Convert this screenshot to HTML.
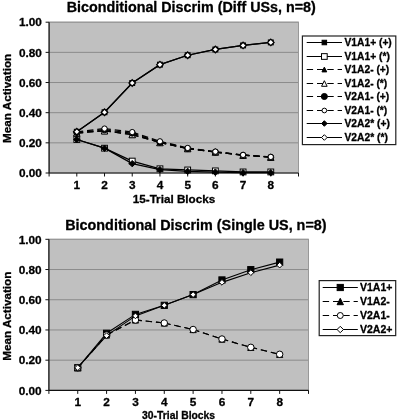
<!DOCTYPE html>
<html><head><meta charset="utf-8"><title>Biconditional Discrim</title>
<style>
html,body{margin:0;padding:0;background:#fff;}
body{width:397px;height:420px;overflow:hidden;font-family:"Liberation Sans",sans-serif;}
svg{display:block;filter:grayscale(1) blur(0.35px);}
</style></head><body>
<svg width="397" height="420" viewBox="0 0 397 420" font-family="'Liberation Sans', sans-serif" fill="#000">
<style>text{stroke:#000;stroke-width:0.3px;stroke-linejoin:round}</style>
<rect width="397" height="420" fill="#fff"/>
<rect x="49.1" y="22.2" width="249.4" height="150.8" fill="#c0c0c0"/>
<line x1="49.1" x2="298.5" y1="142.84" y2="142.84" stroke="#858585" stroke-width="0.9"/>
<line x1="49.1" x2="298.5" y1="112.68" y2="112.68" stroke="#858585" stroke-width="0.9"/>
<line x1="49.1" x2="298.5" y1="82.52" y2="82.52" stroke="#858585" stroke-width="0.9"/>
<line x1="49.1" x2="298.5" y1="52.36" y2="52.36" stroke="#858585" stroke-width="0.9"/>
<line x1="49.1" x2="298.5" y1="22.20" y2="22.20" stroke="#858585" stroke-width="0.9"/>
<rect x="49.1" y="22.2" width="249.4" height="150.8" fill="none" stroke="#989898" stroke-width="1"/>
<line x1="49.1" x2="49.1" y1="22.2" y2="173.0" stroke="#111" stroke-width="1.2"/>
<line x1="49.1" x2="298.5" y1="173.0" y2="173.0" stroke="#111" stroke-width="1.2"/>
<line x1="45.6" x2="49.1" y1="173.00" y2="173.00" stroke="#111" stroke-width="1"/>
<text x="41.9" y="177.25" text-anchor="end" font-size="11.8" font-weight="bold">0.00</text>
<line x1="45.6" x2="49.1" y1="142.84" y2="142.84" stroke="#111" stroke-width="1"/>
<text x="41.9" y="147.09" text-anchor="end" font-size="11.8" font-weight="bold">0.20</text>
<line x1="45.6" x2="49.1" y1="112.68" y2="112.68" stroke="#111" stroke-width="1"/>
<text x="41.9" y="116.93" text-anchor="end" font-size="11.8" font-weight="bold">0.40</text>
<line x1="45.6" x2="49.1" y1="82.52" y2="82.52" stroke="#111" stroke-width="1"/>
<text x="41.9" y="86.77" text-anchor="end" font-size="11.8" font-weight="bold">0.60</text>
<line x1="45.6" x2="49.1" y1="52.36" y2="52.36" stroke="#111" stroke-width="1"/>
<text x="41.9" y="56.61" text-anchor="end" font-size="11.8" font-weight="bold">0.80</text>
<line x1="45.6" x2="49.1" y1="22.20" y2="22.20" stroke="#111" stroke-width="1"/>
<text x="41.9" y="26.45" text-anchor="end" font-size="11.8" font-weight="bold">1.00</text>
<line x1="49.10" x2="49.10" y1="173.0" y2="176.5" stroke="#111" stroke-width="1"/>
<line x1="76.81" x2="76.81" y1="173.0" y2="176.5" stroke="#111" stroke-width="1"/>
<text x="76.81" y="189.0" text-anchor="middle" font-size="11.8" font-weight="bold">1</text>
<line x1="104.52" x2="104.52" y1="173.0" y2="176.5" stroke="#111" stroke-width="1"/>
<text x="104.52" y="189.0" text-anchor="middle" font-size="11.8" font-weight="bold">2</text>
<line x1="132.23" x2="132.23" y1="173.0" y2="176.5" stroke="#111" stroke-width="1"/>
<text x="132.23" y="189.0" text-anchor="middle" font-size="11.8" font-weight="bold">3</text>
<line x1="159.94" x2="159.94" y1="173.0" y2="176.5" stroke="#111" stroke-width="1"/>
<text x="159.94" y="189.0" text-anchor="middle" font-size="11.8" font-weight="bold">4</text>
<line x1="187.66" x2="187.66" y1="173.0" y2="176.5" stroke="#111" stroke-width="1"/>
<text x="187.66" y="189.0" text-anchor="middle" font-size="11.8" font-weight="bold">5</text>
<line x1="215.37" x2="215.37" y1="173.0" y2="176.5" stroke="#111" stroke-width="1"/>
<text x="215.37" y="189.0" text-anchor="middle" font-size="11.8" font-weight="bold">6</text>
<line x1="243.08" x2="243.08" y1="173.0" y2="176.5" stroke="#111" stroke-width="1"/>
<text x="243.08" y="189.0" text-anchor="middle" font-size="11.8" font-weight="bold">7</text>
<line x1="270.79" x2="270.79" y1="173.0" y2="176.5" stroke="#111" stroke-width="1"/>
<text x="270.79" y="189.0" text-anchor="middle" font-size="11.8" font-weight="bold">8</text>
<line x1="298.50" x2="298.50" y1="173.0" y2="176.5" stroke="#111" stroke-width="1"/>
<polyline points="76.81,131.76 104.52,112.27 132.23,83.02 159.94,64.65 187.66,55.23 215.37,49.49 243.08,45.42 270.79,42.41" fill="none" stroke="#000" stroke-width="1.25"/>
<rect x="74.36" y="129.31" width="4.90" height="4.90" fill="#000" stroke="#000" stroke-width="1"/>
<rect x="102.07" y="109.82" width="4.90" height="4.90" fill="#000" stroke="#000" stroke-width="1"/>
<rect x="129.78" y="80.57" width="4.90" height="4.90" fill="#000" stroke="#000" stroke-width="1"/>
<rect x="157.49" y="62.20" width="4.90" height="4.90" fill="#000" stroke="#000" stroke-width="1"/>
<rect x="185.21" y="52.78" width="4.90" height="4.90" fill="#000" stroke="#000" stroke-width="1"/>
<rect x="212.92" y="47.04" width="4.90" height="4.90" fill="#000" stroke="#000" stroke-width="1"/>
<rect x="240.63" y="42.97" width="4.90" height="4.90" fill="#000" stroke="#000" stroke-width="1"/>
<rect x="268.34" y="39.96" width="4.90" height="4.90" fill="#000" stroke="#000" stroke-width="1"/>
<polyline points="76.81,139.52 104.52,148.19 132.23,161.09 159.94,168.78 187.66,169.98 215.37,170.89 243.08,171.94 270.79,171.94" fill="none" stroke="#000" stroke-width="1.25"/>
<rect x="73.91" y="136.62" width="5.80" height="5.80" fill="#fff" stroke="#000" stroke-width="1"/>
<rect x="101.62" y="145.29" width="5.80" height="5.80" fill="#fff" stroke="#000" stroke-width="1"/>
<rect x="129.33" y="158.19" width="5.80" height="5.80" fill="#fff" stroke="#000" stroke-width="1"/>
<rect x="157.04" y="165.88" width="5.80" height="5.80" fill="#fff" stroke="#000" stroke-width="1"/>
<rect x="184.76" y="167.08" width="5.80" height="5.80" fill="#fff" stroke="#000" stroke-width="1"/>
<rect x="212.47" y="167.99" width="5.80" height="5.80" fill="#fff" stroke="#000" stroke-width="1"/>
<rect x="240.18" y="169.04" width="5.80" height="5.80" fill="#fff" stroke="#000" stroke-width="1"/>
<rect x="267.89" y="169.04" width="5.80" height="5.80" fill="#fff" stroke="#000" stroke-width="1"/>
<path d="M76.81 133.04L104.52 130.78M104.52 130.78L132.23 134.55M132.23 134.55L159.94 142.54M159.94 142.54L187.66 148.57M187.66 148.57L215.37 152.04M215.37 152.04L243.08 155.21M243.08 155.21L270.79 157.17" fill="none" stroke="#000" stroke-width="1.25" stroke-dasharray="6.4 3.9"/>
<path d="M76.81 130.04L79.81 136.04L73.81 136.04Z" fill="#000" stroke="#000" stroke-width="1"/>
<path d="M104.52 127.78L107.52 133.78L101.52 133.78Z" fill="#000" stroke="#000" stroke-width="1"/>
<path d="M132.23 131.55L135.23 137.55L129.23 137.55Z" fill="#000" stroke="#000" stroke-width="1"/>
<path d="M159.94 139.54L162.94 145.54L156.94 145.54Z" fill="#000" stroke="#000" stroke-width="1"/>
<path d="M187.66 145.57L190.66 151.57L184.66 151.57Z" fill="#000" stroke="#000" stroke-width="1"/>
<path d="M215.37 149.04L218.37 155.04L212.37 155.04Z" fill="#000" stroke="#000" stroke-width="1"/>
<path d="M243.08 152.21L246.08 158.21L240.08 158.21Z" fill="#000" stroke="#000" stroke-width="1"/>
<path d="M270.79 154.17L273.79 160.17L267.79 160.17Z" fill="#000" stroke="#000" stroke-width="1"/>
<path d="M76.81 133.04L104.52 130.78M104.52 130.78L132.23 134.55M132.23 134.55L159.94 142.54M159.94 142.54L187.66 148.57M187.66 148.57L215.37 152.04M215.37 152.04L243.08 155.21M243.08 155.21L270.79 157.17" fill="none" stroke="#000" stroke-width="1.25" stroke-dasharray="6.4 3.9"/>
<path d="M76.81 129.84L80.01 136.24L73.61 136.24Z" fill="#fff" stroke="#000" stroke-width="1"/>
<path d="M104.52 127.58L107.72 133.98L101.32 133.98Z" fill="#fff" stroke="#000" stroke-width="1"/>
<path d="M132.23 131.35L135.43 137.75L129.03 137.75Z" fill="#fff" stroke="#000" stroke-width="1"/>
<path d="M159.94 139.34L163.14 145.74L156.74 145.74Z" fill="#fff" stroke="#000" stroke-width="1"/>
<path d="M187.66 145.37L190.86 151.77L184.46 151.77Z" fill="#fff" stroke="#000" stroke-width="1"/>
<path d="M215.37 148.84L218.57 155.24L212.17 155.24Z" fill="#fff" stroke="#000" stroke-width="1"/>
<path d="M243.08 152.01L246.28 158.41L239.88 158.41Z" fill="#fff" stroke="#000" stroke-width="1"/>
<path d="M270.79 153.97L273.99 160.37L267.59 160.37Z" fill="#fff" stroke="#000" stroke-width="1"/>
<path d="M76.81 132.59L104.52 129.72M104.52 129.72L132.23 133.19M132.23 133.19L159.94 142.24M159.94 142.24L187.66 148.57M187.66 148.57L215.37 152.04M215.37 152.04L243.08 155.21M243.08 155.21L270.79 157.17" fill="none" stroke="#000" stroke-width="1.25" stroke-dasharray="6.4 3.9"/>
<circle cx="76.81" cy="132.59" r="3.00" fill="#000" stroke="#000" stroke-width="1"/>
<circle cx="104.52" cy="129.72" r="3.00" fill="#000" stroke="#000" stroke-width="1"/>
<circle cx="132.23" cy="133.19" r="3.00" fill="#000" stroke="#000" stroke-width="1"/>
<circle cx="159.94" cy="142.24" r="3.00" fill="#000" stroke="#000" stroke-width="1"/>
<circle cx="187.66" cy="148.57" r="3.00" fill="#000" stroke="#000" stroke-width="1"/>
<circle cx="215.37" cy="152.04" r="3.00" fill="#000" stroke="#000" stroke-width="1"/>
<circle cx="243.08" cy="155.21" r="3.00" fill="#000" stroke="#000" stroke-width="1"/>
<circle cx="270.79" cy="157.17" r="3.00" fill="#000" stroke="#000" stroke-width="1"/>
<path d="M76.81 131.91L104.52 128.56M104.52 128.56L132.23 132.06M132.23 132.06L159.94 141.33M159.94 141.33L187.66 147.97M187.66 147.97L215.37 151.63M215.37 151.63L243.08 154.90M243.08 154.90L270.79 156.92" fill="none" stroke="#000" stroke-width="1.25" stroke-dasharray="6.4 3.9"/>
<circle cx="76.81" cy="131.91" r="2.65" fill="#fff" stroke="#000" stroke-width="1"/>
<circle cx="104.52" cy="128.56" r="2.65" fill="#fff" stroke="#000" stroke-width="1"/>
<circle cx="132.23" cy="132.06" r="2.65" fill="#fff" stroke="#000" stroke-width="1"/>
<circle cx="159.94" cy="141.33" r="2.65" fill="#fff" stroke="#000" stroke-width="1"/>
<circle cx="187.66" cy="147.97" r="2.65" fill="#fff" stroke="#000" stroke-width="1"/>
<circle cx="215.37" cy="151.63" r="2.65" fill="#fff" stroke="#000" stroke-width="1"/>
<circle cx="243.08" cy="154.90" r="2.65" fill="#fff" stroke="#000" stroke-width="1"/>
<circle cx="270.79" cy="156.92" r="2.65" fill="#fff" stroke="#000" stroke-width="1"/>
<polyline points="76.81,139.52 104.52,148.19 132.23,163.65 159.94,169.61 187.66,171.34 215.37,172.10 243.08,172.70 270.79,172.70" fill="none" stroke="#000" stroke-width="1.25"/>
<path d="M76.81 136.32L80.01 139.52L76.81 142.72L73.61 139.52Z" fill="#000" stroke="#000" stroke-width="1"/>
<path d="M104.52 144.99L107.72 148.19L104.52 151.39L101.32 148.19Z" fill="#000" stroke="#000" stroke-width="1"/>
<path d="M132.23 160.45L135.43 163.65L132.23 166.85L129.03 163.65Z" fill="#000" stroke="#000" stroke-width="1"/>
<path d="M159.94 166.41L163.14 169.61L159.94 172.81L156.74 169.61Z" fill="#000" stroke="#000" stroke-width="1"/>
<path d="M187.66 168.14L190.86 171.34L187.66 174.54L184.46 171.34Z" fill="#000" stroke="#000" stroke-width="1"/>
<path d="M215.37 168.90L218.57 172.10L215.37 175.30L212.17 172.10Z" fill="#000" stroke="#000" stroke-width="1"/>
<path d="M243.08 169.50L246.28 172.70L243.08 175.90L239.88 172.70Z" fill="#000" stroke="#000" stroke-width="1"/>
<path d="M270.79 169.50L273.99 172.70L270.79 175.90L267.59 172.70Z" fill="#000" stroke="#000" stroke-width="1"/>
<polyline points="76.81,131.76 104.52,112.27 132.23,83.02 159.94,64.65 187.66,55.23 215.37,49.49 243.08,45.42 270.79,42.41" fill="none" stroke="#000" stroke-width="1.25"/>
<path d="M76.81 128.51L80.06 131.76L76.81 135.01L73.56 131.76Z" fill="#fff" stroke="#000" stroke-width="1.3"/>
<path d="M104.52 109.02L107.77 112.27L104.52 115.52L101.27 112.27Z" fill="#fff" stroke="#000" stroke-width="1.3"/>
<path d="M132.23 79.77L135.48 83.02L132.23 86.27L128.98 83.02Z" fill="#fff" stroke="#000" stroke-width="1.3"/>
<path d="M159.94 61.40L163.19 64.65L159.94 67.90L156.69 64.65Z" fill="#fff" stroke="#000" stroke-width="1.3"/>
<path d="M187.66 51.98L190.91 55.23L187.66 58.48L184.41 55.23Z" fill="#fff" stroke="#000" stroke-width="1.3"/>
<path d="M215.37 46.24L218.62 49.49L215.37 52.74L212.12 49.49Z" fill="#fff" stroke="#000" stroke-width="1.3"/>
<path d="M243.08 42.17L246.33 45.42L243.08 48.67L239.83 45.42Z" fill="#fff" stroke="#000" stroke-width="1.3"/>
<path d="M270.79 39.16L274.04 42.41L270.79 45.66L267.54 42.41Z" fill="#fff" stroke="#000" stroke-width="1.3"/>
<text x="191.3" y="11.7" text-anchor="middle" font-size="14.3" font-weight="bold">Biconditional Discrim (Diff USs, n=8)</text>
<text x="174" y="203.3" text-anchor="middle" font-size="11.7" font-weight="bold">15-Trial Blocks</text>
<text transform="translate(11.3,98.4) rotate(-90)" text-anchor="middle" font-size="11.7" font-weight="bold">Mean Activation</text>
<rect x="302.4" y="36" width="93.40000000000003" height="108.6" fill="#fff" stroke="#222" stroke-width="1.2"/>
<line x1="306.7" x2="342" y1="42.5" y2="42.5" stroke="#000" stroke-width="1.1"/>
<rect x="322.10" y="40.25" width="4.50" height="4.50" fill="#000" stroke="#000" stroke-width="1"/>
<text x="344.5" y="46.15" font-size="10.25" font-weight="bold">V1A1+ (+)</text>
<line x1="306.7" x2="342" y1="56.5" y2="56.5" stroke="#000" stroke-width="1.1"/>
<rect x="321.50" y="53.65" width="5.70" height="5.70" fill="#fff" stroke="#000" stroke-width="1"/>
<text x="344.5" y="60.15" font-size="10.25" font-weight="bold">V1A1+ (*)</text>
<path d="M306.7 69.5L342 69.5" fill="none" stroke="#000" stroke-width="1.1" stroke-dasharray="6.4 3.9"/>
<path d="M324.35 67.10L326.75 71.90L321.95 71.90Z" fill="#000" stroke="#000" stroke-width="1"/>
<text x="344.5" y="73.15" font-size="10.25" font-weight="bold">V1A2- (+)</text>
<path d="M306.7 83.5L342 83.5" fill="none" stroke="#000" stroke-width="1.1" stroke-dasharray="6.4 3.9"/>
<path d="M324.35 80.70L327.15 86.30L321.55 86.30Z" fill="#fff" stroke="#000" stroke-width="1"/>
<text x="344.5" y="87.15" font-size="10.25" font-weight="bold">V1A2- (*)</text>
<path d="M306.7 96.5L342 96.5" fill="none" stroke="#000" stroke-width="1.1" stroke-dasharray="6.4 3.9"/>
<circle cx="324.35" cy="96.50" r="3.05" fill="#000" stroke="#000" stroke-width="1"/>
<text x="344.5" y="100.15" font-size="10.25" font-weight="bold">V2A1- (+)</text>
<path d="M306.7 110.5L342 110.5" fill="none" stroke="#000" stroke-width="1.1" stroke-dasharray="6.4 3.9"/>
<circle cx="324.35" cy="110.50" r="2.35" fill="#fff" stroke="#000" stroke-width="1"/>
<text x="344.5" y="114.15" font-size="10.25" font-weight="bold">V2A1- (*)</text>
<line x1="306.7" x2="342" y1="123.5" y2="123.5" stroke="#000" stroke-width="1.1"/>
<path d="M324.35 120.70L327.15 123.50L324.35 126.30L321.55 123.50Z" fill="#000" stroke="#000" stroke-width="1"/>
<text x="344.5" y="127.15" font-size="10.25" font-weight="bold">V2A2* (+)</text>
<line x1="306.7" x2="342" y1="137.5" y2="137.5" stroke="#000" stroke-width="1.1"/>
<path d="M324.35 134.70L327.15 137.50L324.35 140.30L321.55 137.50Z" fill="#fff" stroke="#000" stroke-width="1"/>
<text x="344.5" y="141.15" font-size="10.25" font-weight="bold">V2A2* (*)</text>
<rect x="48.9" y="239.3" width="259.6" height="151.09999999999997" fill="#c0c0c0"/>
<line x1="48.9" x2="308.5" y1="360.18" y2="360.18" stroke="#858585" stroke-width="0.9"/>
<line x1="48.9" x2="308.5" y1="329.96" y2="329.96" stroke="#858585" stroke-width="0.9"/>
<line x1="48.9" x2="308.5" y1="299.74" y2="299.74" stroke="#858585" stroke-width="0.9"/>
<line x1="48.9" x2="308.5" y1="269.52" y2="269.52" stroke="#858585" stroke-width="0.9"/>
<line x1="48.9" x2="308.5" y1="239.30" y2="239.30" stroke="#858585" stroke-width="0.9"/>
<rect x="48.9" y="239.3" width="259.6" height="151.09999999999997" fill="none" stroke="#989898" stroke-width="1"/>
<line x1="48.9" x2="48.9" y1="239.3" y2="390.4" stroke="#111" stroke-width="1.2"/>
<line x1="48.9" x2="308.5" y1="390.4" y2="390.4" stroke="#111" stroke-width="1.2"/>
<line x1="45.4" x2="48.9" y1="390.40" y2="390.40" stroke="#111" stroke-width="1"/>
<text x="41.699999999999996" y="394.65" text-anchor="end" font-size="11.8" font-weight="bold">0.00</text>
<line x1="45.4" x2="48.9" y1="360.18" y2="360.18" stroke="#111" stroke-width="1"/>
<text x="41.699999999999996" y="364.43" text-anchor="end" font-size="11.8" font-weight="bold">0.20</text>
<line x1="45.4" x2="48.9" y1="329.96" y2="329.96" stroke="#111" stroke-width="1"/>
<text x="41.699999999999996" y="334.21" text-anchor="end" font-size="11.8" font-weight="bold">0.40</text>
<line x1="45.4" x2="48.9" y1="299.74" y2="299.74" stroke="#111" stroke-width="1"/>
<text x="41.699999999999996" y="303.99" text-anchor="end" font-size="11.8" font-weight="bold">0.60</text>
<line x1="45.4" x2="48.9" y1="269.52" y2="269.52" stroke="#111" stroke-width="1"/>
<text x="41.699999999999996" y="273.77" text-anchor="end" font-size="11.8" font-weight="bold">0.80</text>
<line x1="45.4" x2="48.9" y1="239.30" y2="239.30" stroke="#111" stroke-width="1"/>
<text x="41.699999999999996" y="243.55" text-anchor="end" font-size="11.8" font-weight="bold">1.00</text>
<line x1="48.90" x2="48.90" y1="390.4" y2="393.9" stroke="#111" stroke-width="1"/>
<line x1="77.74" x2="77.74" y1="390.4" y2="393.9" stroke="#111" stroke-width="1"/>
<text x="77.74" y="406.2" text-anchor="middle" font-size="11.8" font-weight="bold">1</text>
<line x1="106.59" x2="106.59" y1="390.4" y2="393.9" stroke="#111" stroke-width="1"/>
<text x="106.59" y="406.2" text-anchor="middle" font-size="11.8" font-weight="bold">2</text>
<line x1="135.43" x2="135.43" y1="390.4" y2="393.9" stroke="#111" stroke-width="1"/>
<text x="135.43" y="406.2" text-anchor="middle" font-size="11.8" font-weight="bold">3</text>
<line x1="164.28" x2="164.28" y1="390.4" y2="393.9" stroke="#111" stroke-width="1"/>
<text x="164.28" y="406.2" text-anchor="middle" font-size="11.8" font-weight="bold">4</text>
<line x1="193.12" x2="193.12" y1="390.4" y2="393.9" stroke="#111" stroke-width="1"/>
<text x="193.12" y="406.2" text-anchor="middle" font-size="11.8" font-weight="bold">5</text>
<line x1="221.97" x2="221.97" y1="390.4" y2="393.9" stroke="#111" stroke-width="1"/>
<text x="221.97" y="406.2" text-anchor="middle" font-size="11.8" font-weight="bold">6</text>
<line x1="250.81" x2="250.81" y1="390.4" y2="393.9" stroke="#111" stroke-width="1"/>
<text x="250.81" y="406.2" text-anchor="middle" font-size="11.8" font-weight="bold">7</text>
<line x1="279.66" x2="279.66" y1="390.4" y2="393.9" stroke="#111" stroke-width="1"/>
<text x="279.66" y="406.2" text-anchor="middle" font-size="11.8" font-weight="bold">8</text>
<line x1="308.50" x2="308.50" y1="390.4" y2="393.9" stroke="#111" stroke-width="1"/>
<polyline points="77.74,367.73 106.59,333.28 135.43,314.40 164.28,305.33 193.12,294.60 221.97,279.95 250.81,269.67 279.66,262.12" fill="none" stroke="#000" stroke-width="1.1"/>
<rect x="74.64" y="364.63" width="6.20" height="6.20" fill="#000" stroke="#000" stroke-width="1"/>
<rect x="103.49" y="330.18" width="6.20" height="6.20" fill="#000" stroke="#000" stroke-width="1"/>
<rect x="132.33" y="311.30" width="6.20" height="6.20" fill="#000" stroke="#000" stroke-width="1"/>
<rect x="161.18" y="302.23" width="6.20" height="6.20" fill="#000" stroke="#000" stroke-width="1"/>
<rect x="190.02" y="291.50" width="6.20" height="6.20" fill="#000" stroke="#000" stroke-width="1"/>
<rect x="218.87" y="276.85" width="6.20" height="6.20" fill="#000" stroke="#000" stroke-width="1"/>
<rect x="247.71" y="266.57" width="6.20" height="6.20" fill="#000" stroke="#000" stroke-width="1"/>
<rect x="276.56" y="259.02" width="6.20" height="6.20" fill="#000" stroke="#000" stroke-width="1"/>
<path d="M77.74 367.73L106.59 334.99M106.59 334.99L135.43 319.99M135.43 319.99L164.28 323.01M164.28 323.01L193.12 329.51M193.12 329.51L221.97 339.03M221.97 339.03L250.81 347.34M250.81 347.34L279.66 354.29" fill="none" stroke="#000" stroke-width="1.1" stroke-dasharray="6.4 3.9"/>
<path d="M77.74 364.63L80.84 370.83L74.64 370.83Z" fill="#000" stroke="#000" stroke-width="1"/>
<path d="M106.59 331.89L109.69 338.09L103.49 338.09Z" fill="#000" stroke="#000" stroke-width="1"/>
<path d="M135.43 316.89L138.53 323.09L132.33 323.09Z" fill="#000" stroke="#000" stroke-width="1"/>
<path d="M164.28 319.91L167.38 326.11L161.18 326.11Z" fill="#000" stroke="#000" stroke-width="1"/>
<path d="M193.12 326.41L196.22 332.61L190.02 332.61Z" fill="#000" stroke="#000" stroke-width="1"/>
<path d="M221.97 335.93L225.07 342.13L218.87 342.13Z" fill="#000" stroke="#000" stroke-width="1"/>
<path d="M250.81 344.24L253.91 350.44L247.71 350.44Z" fill="#000" stroke="#000" stroke-width="1"/>
<path d="M279.66 351.19L282.76 357.39L276.56 357.39Z" fill="#000" stroke="#000" stroke-width="1"/>
<path d="M77.74 367.73L106.59 334.99M106.59 334.99L135.43 319.99M135.43 319.99L164.28 323.01M164.28 323.01L193.12 329.51M193.12 329.51L221.97 339.03M221.97 339.03L250.81 347.34M250.81 347.34L279.66 354.29" fill="none" stroke="#000" stroke-width="1.1" stroke-dasharray="6.4 3.9"/>
<circle cx="77.74" cy="367.73" r="3.25" fill="#fff" stroke="#000" stroke-width="1"/>
<circle cx="106.59" cy="334.99" r="3.25" fill="#fff" stroke="#000" stroke-width="1"/>
<circle cx="135.43" cy="319.99" r="3.25" fill="#fff" stroke="#000" stroke-width="1"/>
<circle cx="164.28" cy="323.01" r="3.25" fill="#fff" stroke="#000" stroke-width="1"/>
<circle cx="193.12" cy="329.51" r="3.25" fill="#fff" stroke="#000" stroke-width="1"/>
<circle cx="221.97" cy="339.03" r="3.25" fill="#fff" stroke="#000" stroke-width="1"/>
<circle cx="250.81" cy="347.34" r="3.25" fill="#fff" stroke="#000" stroke-width="1"/>
<circle cx="279.66" cy="354.29" r="3.25" fill="#fff" stroke="#000" stroke-width="1"/>
<polyline points="77.74,367.73 106.59,335.63 135.43,315.91 164.28,305.33 193.12,294.60 221.97,282.36 250.81,272.69 279.66,265.14" fill="none" stroke="#000" stroke-width="1.1"/>
<path d="M77.74 364.88L80.59 367.73L77.74 370.58L74.89 367.73Z" fill="#fff" stroke="#000" stroke-width="1"/>
<path d="M106.59 332.78L109.44 335.63L106.59 338.48L103.74 335.63Z" fill="#fff" stroke="#000" stroke-width="1"/>
<path d="M135.43 313.06L138.28 315.91L135.43 318.76L132.58 315.91Z" fill="#fff" stroke="#000" stroke-width="1"/>
<path d="M164.28 302.48L167.13 305.33L164.28 308.18L161.43 305.33Z" fill="#fff" stroke="#000" stroke-width="1"/>
<path d="M193.12 291.75L195.97 294.60L193.12 297.45L190.27 294.60Z" fill="#fff" stroke="#000" stroke-width="1"/>
<path d="M221.97 279.51L224.82 282.36L221.97 285.21L219.12 282.36Z" fill="#fff" stroke="#000" stroke-width="1"/>
<path d="M250.81 269.84L253.66 272.69L250.81 275.54L247.96 272.69Z" fill="#fff" stroke="#000" stroke-width="1"/>
<path d="M279.66 262.29L282.51 265.14L279.66 267.99L276.81 265.14Z" fill="#fff" stroke="#000" stroke-width="1"/>
<text x="195.9" y="230.1" text-anchor="middle" font-size="14.37" font-weight="bold">Biconditional Discrim (Single US, n=8)</text>
<text x="178.6" y="418.8" text-anchor="middle" font-size="10.35" font-weight="bold">30-Trial Blocks</text>
<text transform="translate(11.3,316.2) rotate(-90)" text-anchor="middle" font-size="11.7" font-weight="bold">Mean Activation</text>
<rect x="319.2" y="280.6" width="76.5" height="55.0" fill="#fff" stroke="#222" stroke-width="1.2"/>
<line x1="322.7" x2="357.8" y1="287.5" y2="287.5" stroke="#000" stroke-width="1.1"/>
<rect x="337.15" y="284.40" width="6.20" height="6.20" fill="#000" stroke="#000" stroke-width="1"/>
<text x="360" y="291.20" font-size="10.5" font-weight="bold">V1A1+</text>
<path d="M322.7 301.5L357.8 301.5" fill="none" stroke="#000" stroke-width="1.1" stroke-dasharray="6.4 3.9"/>
<path d="M340.25 298.30L343.45 304.70L337.05 304.70Z" fill="#000" stroke="#000" stroke-width="1"/>
<text x="360" y="305.20" font-size="10.5" font-weight="bold">V1A2-</text>
<path d="M322.7 315.5L357.8 315.5" fill="none" stroke="#000" stroke-width="1.1" stroke-dasharray="6.4 3.9"/>
<circle cx="340.25" cy="315.50" r="3.00" fill="#fff" stroke="#000" stroke-width="1"/>
<text x="360" y="319.20" font-size="10.5" font-weight="bold">V2A1-</text>
<line x1="322.7" x2="357.8" y1="329.5" y2="329.5" stroke="#000" stroke-width="1.1"/>
<path d="M340.25 326.30L343.45 329.50L340.25 332.70L337.05 329.50Z" fill="#fff" stroke="#000" stroke-width="1"/>
<text x="360" y="333.20" font-size="10.5" font-weight="bold">V2A2+</text>
</svg>
</body></html>
